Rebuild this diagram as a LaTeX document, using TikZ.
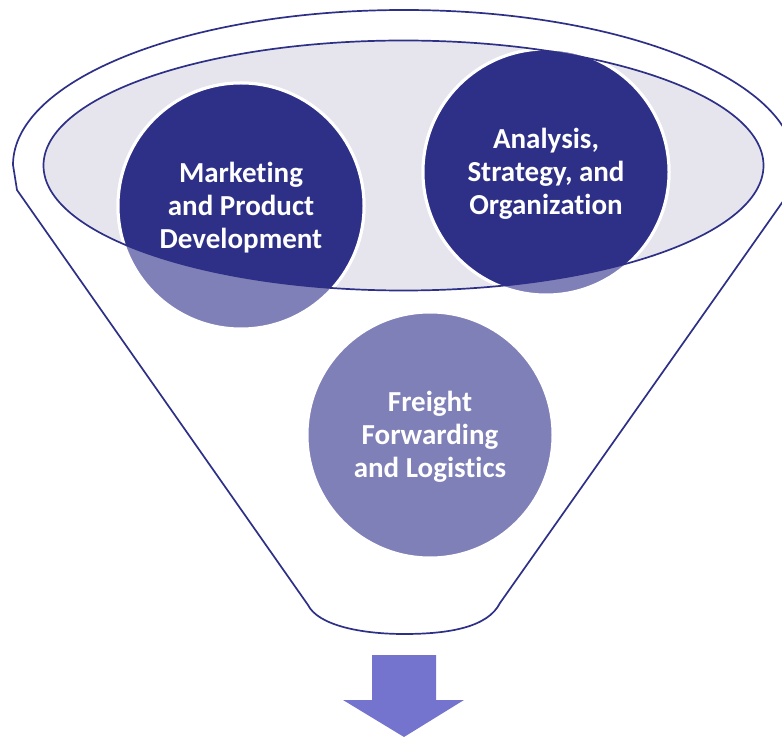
\documentclass[tikz,border=0pt]{standalone}
\usepackage{fontspec}
\setmainfont{Carlito}[Ligatures={NoCommon,NoRare,NoContextual}]
\definecolor{navy}{HTML}{2E3087}
\definecolor{lightnavy}{HTML}{8080B8}
\definecolor{ellfill}{HTML}{E6E5EE}
\definecolor{arrowc}{HTML}{7474CF}
\begin{document}
\begin{tikzpicture}[x=1pt,y=1pt,
  lbl/.style={text=white,font=\bfseries\fontsize{29}{33}\selectfont,align=center},
  bubble/.style={circle,minimum size=246pt,inner sep=0pt,draw=white,line width=3pt},
  outline/.style={draw=navy,line width=1.7pt}]
\useasboundingbox (0,0) rectangle (782,737);
\begin{scope}
\clip (0,0) rectangle (782,737);
% outer funnel
\draw[outline,fill=white] (13,572) arc[start angle=180,end angle=0,x radius=391,y radius=155]
  -- (791,547) -- (500,134)
  .. controls (488,110) and (450,103) .. (404,103)
  .. controls (360,103) and (318,112) .. (308,132)
  -- (17,547) -- cycle;
% inner ellipse fill
\fill[ellfill] (403.5,571.5) ellipse [x radius=360, y radius=125];
% circles (light)
\node[bubble,fill=lightnavy] (mkt) at (241,531) {};
\node[bubble,fill=lightnavy] (ana) at (546,565) {};
\node[bubble,fill=lightnavy] (frt) at (430,302) {};
% dark parts inside the ellipse
\begin{scope}
\clip (403.5,571.5) ellipse [x radius=360, y radius=125];
\node[bubble,fill=navy] (mktd) at (241,531) {};
\node[bubble,fill=navy] (anad) at (546,565) {};
\end{scope}
% ellipse border
\draw[outline] (403.5,571.5) ellipse [x radius=360, y radius=125];
\end{scope}
% labels
\node[lbl] (tmkt) at ([yshift=-2pt]mkt) {Marketing\\and Product\\Development};
\node[lbl] (tana) at ([yshift=-2pt]ana) {Analysis,\\Strategy, and\\Organization};
\node[lbl] (tfrt) at ([yshift=-2pt]frt) {Freight\\Forwarding\\and Logistics};
% arrow
\fill[arrowc] (372,82) -- (436,82) -- (436,37) -- (464,37) -- (404,0)
  -- (343,37) -- (372,37) -- cycle;
\end{tikzpicture}
\end{document}
